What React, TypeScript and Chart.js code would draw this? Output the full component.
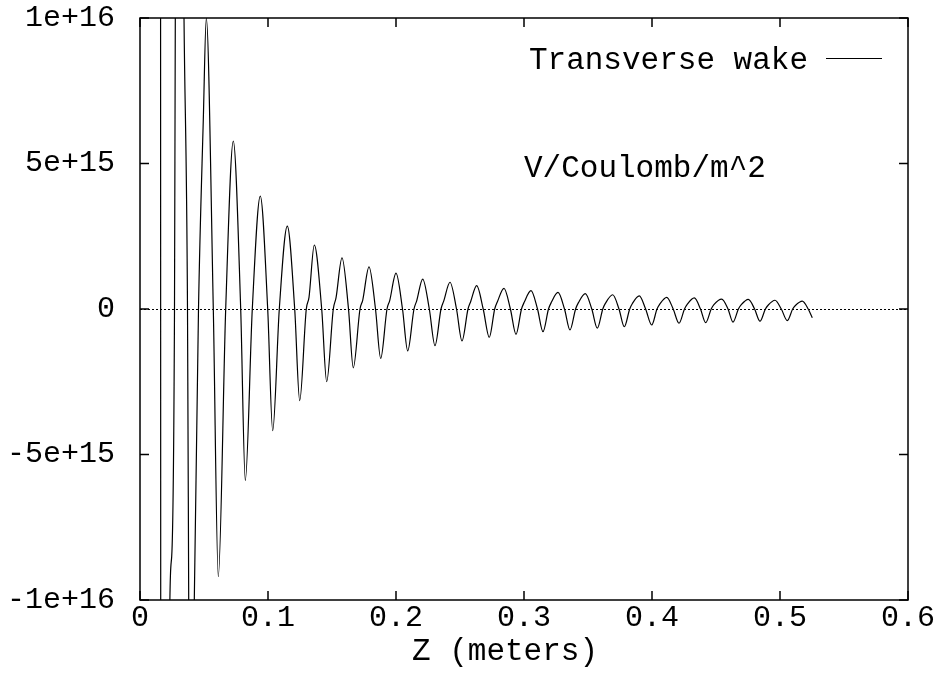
import React, { useEffect, useRef } from "react";
import { Chart, registerables } from "chart.js";

Chart.register(...registerables);

const FONT = '"Liberation Mono", "Courier New", monospace';

// Axis ticks
const xTickValues = [0, 0.1, 0.2, 0.3, 0.4, 0.5, 0.6];
const xTickLabels = ["0", "0.1", "0.2", "0.3", "0.4", "0.5", "0.6"];
const yTickValues = [-1e16, -5e15, 0, 5e15, 1e16];
const yTickLabels = ["-1e+16", "-5e+15", "0", "5e+15", "1e+16"];

const seriesLabel = "Transverse wake";
const unitsLabel = "V/Coulomb/m^2";
const xTitle = "Z (meters)";
const UNIT = 1e15; // wake values below are in units of 1e15 V/Coulomb/m^2

// Steep start of the wake (z in meters, wake in 1e15)
const headZ = [0.01586, 0.01648, 0.01953, 0.02328, 0.02477, 0.02695, 0.02758, 0.03086, 0.03438, 0.03711, 0.03805, 0.03945, 0.04242, 0.0457, 0.04945, 0.0518, 0.05727];
const headW = [60, -60, -90, -10.2, -8.5, 0, 10, 28, 10, 0, -10, -25, -10, 0, 6.5, 10.0, 0];

// Oscillation minima
const troughZ = [0.06117, 0.08227, 0.10367, 0.12477, 0.14586, 0.16664, 0.18805, 0.20914, 0.23047, 0.25156, 0.27289, 0.29375, 0.31484, 0.33594, 0.35727, 0.37836, 0.39977, 0.42109, 0.44195, 0.46328, 0.48438, 0.5057];
const troughW = [-9.2, -5.89, -4.18, -3.15, -2.5, -2.02, -1.7, -1.44, -1.26, -1.1, -0.97, -0.87, -0.78, -0.72, -0.66, -0.61, -0.55, -0.49, -0.47, -0.45, -0.42, -0.4];

// Upward zero crossings
const riseZeroZ = [0.06695, 0.08773, 0.10883, 0.12992, 0.15102, 0.17188, 0.19297, 0.21406, 0.23516, 0.25625, 0.27711, 0.29805, 0.31914, 0.34031, 0.36156, 0.38258, 0.40391, 0.42539, 0.44625, 0.4675, 0.48859, 0.50992];

// Shoulder on the rising edge
const shoulderZ = [0.13203, 0.15313, 0.17398, 0.19508, 0.21617, 0.23727, 0.25836, 0.27922, 0.30016, 0.32125, 0.34242, 0.36367, 0.38469, 0.40609, 0.4275, 0.44836, 0.46961, 0.4907, 0.51203];
const shoulderW = [0.4, 0.38, 0.3, 0.29, 0.28, 0.27, 0.26, 0.25, 0.23, 0.22, 0.21, 0.2, 0.19, 0.17, 0.16, 0.15, 0.14, 0.13, 0.12];

// Oscillation maxima
const peakZ = [0.07289, 0.09398, 0.11508, 0.13617, 0.15781, 0.17891, 0.2, 0.22086, 0.24219, 0.26305, 0.28438, 0.30547, 0.32656, 0.34789, 0.3693, 0.39008, 0.41148, 0.43305, 0.45445, 0.47523, 0.49609, 0.51742];
const peakW = [5.77, 3.88, 2.85, 2.2, 1.76, 1.45, 1.23, 1.03, 0.92, 0.8, 0.71, 0.63, 0.57, 0.53, 0.49, 0.45, 0.4, 0.38, 0.34, 0.33, 0.3, 0.27];

// Downward zero crossings
const fallZeroZ = [0.07867, 0.09977, 0.12086, 0.14195, 0.16289, 0.18398, 0.20508, 0.22602, 0.24727, 0.26813, 0.28938, 0.31055, 0.33164, 0.35297, 0.37422, 0.395, 0.41656, 0.43789, 0.45938, 0.48016, 0.50102, 0.52203];

// Last sample
const tailZ = [0.52523];
const tailW = [-0.3];

function buildPoints() {
  const pts: { x: number; y: number }[] = [];
  headZ.forEach((z, i) => pts.push({ x: z, y: headW[i] * UNIT }));
  troughZ.forEach((z, i) => pts.push({ x: z, y: troughW[i] * UNIT }));
  riseZeroZ.forEach((z) => pts.push({ x: z, y: 0 }));
  shoulderZ.forEach((z, i) => pts.push({ x: z, y: shoulderW[i] * UNIT }));
  peakZ.forEach((z, i) => pts.push({ x: z, y: peakW[i] * UNIT }));
  fallZeroZ.forEach((z) => pts.push({ x: z, y: 0 }));
  tailZ.forEach((z, i) => pts.push({ x: z, y: tailW[i] * UNIT }));
  pts.sort((a, b) => a.x - b.x);
  return pts;
}

const gnuplotFrame = {
  id: "gnuplotFrame",
  beforeDatasetsDraw(chart: any) {
    const { ctx, chartArea: a, scales } = chart;
    const y0 = Math.round(scales.y.getPixelForValue(0)) + 0.5;
    ctx.save();
    ctx.strokeStyle = "#000";
    ctx.lineWidth = 1;
    ctx.setLineDash([2, 2]);
    ctx.beginPath();
    ctx.moveTo(a.left, y0);
    ctx.lineTo(a.right, y0);
    ctx.stroke();
    ctx.restore();
  },
  afterDatasetsDraw(chart: any) {
    const { ctx, chartArea: a, scales } = chart;
    const tl = 9;
    ctx.save();
    ctx.strokeStyle = "#000";
    ctx.lineWidth = 1.5;
    ctx.strokeRect(a.left, a.top, a.right - a.left, a.bottom - a.top);
    ctx.beginPath();
    xTickValues.forEach((v) => {
      const px = scales.x.getPixelForValue(v);
      ctx.moveTo(px, a.bottom);
      ctx.lineTo(px, a.bottom - tl);
      ctx.moveTo(px, a.top);
      ctx.lineTo(px, a.top + tl);
    });
    yTickValues.forEach((v) => {
      const py = scales.y.getPixelForValue(v);
      ctx.moveTo(a.left, py);
      ctx.lineTo(a.left + tl, py);
      ctx.moveTo(a.right, py);
      ctx.lineTo(a.right - tl, py);
    });
    ctx.stroke();

    ctx.fillStyle = "#000";
    ctx.font = `31px ${FONT}`;
    ctx.textBaseline = "alphabetic";

    // legend entry
    ctx.textAlign = "right";
    ctx.fillText(seriesLabel, 808, 69);
    ctx.lineWidth = 1.2;
    ctx.beginPath();
    ctx.moveTo(826, 58.5);
    ctx.lineTo(882, 58.5);
    ctx.stroke();

    // units label
    ctx.textAlign = "left";
    ctx.fillText(unitsLabel, 524, 177);

    // x axis title
    ctx.textAlign = "center";
    ctx.fillText(xTitle, 505, 660);
    ctx.restore();
  },
};

export default function App() {
  const canvasRef = useRef<HTMLCanvasElement | null>(null);

  useEffect(() => {
    if (!canvasRef.current) return;
    const chart = new Chart(canvasRef.current, {
      type: "line",
      data: {
        datasets: [
          {
            label: seriesLabel,
            data: buildPoints(),
            borderColor: "#000",
            borderWidth: 1.2,
            pointRadius: 0,
            fill: false,
            cubicInterpolationMode: "monotone",
            clip: 0,
          } as any,
        ],
      },
      options: {
        animation: false,
        responsive: false,
        events: [],
        layout: { padding: { left: 0, right: 34, top: 18, bottom: 0 } },
        plugins: { legend: { display: false }, tooltip: { enabled: false } },
        scales: {
          x: {
            type: "linear",
            min: 0,
            max: 0.6,
            grid: { display: false, drawTicks: false },
            border: { display: false },
            afterBuildTicks: (s: any) => {
              s.ticks = xTickValues.map((v) => ({ value: v }));
            },
            afterFit: (s: any) => {
              s.height = 82;
              s.paddingLeft = 0;
              s.paddingRight = 0;
            },
            ticks: {
              autoSkip: false,
              maxRotation: 0,
              padding: 0,
              color: "#000",
              font: { family: FONT, size: 30 },
              callback: (_v: any, i: number) => xTickLabels[i],
            },
            title: { display: false, text: xTitle },
          },
          y: {
            type: "linear",
            min: -1e16,
            max: 1e16,
            grid: { display: false, drawTicks: false },
            border: { display: false },
            afterBuildTicks: (s: any) => {
              s.ticks = yTickValues.map((v) => ({ value: v }));
            },
            afterFit: (s: any) => {
              s.width = 140;
              s.paddingTop = 0;
              s.paddingBottom = 0;
            },
            ticks: {
              padding: 25,
              color: "#000",
              font: { family: FONT, size: 30 },
              callback: (_v: any, i: number) => yTickLabels[i],
            },
          },
        },
      } as any,
      plugins: [gnuplotFrame],
    });
    return () => chart.destroy();
  }, []);

  return (
    <div style={{ position: "absolute", left: 0, top: 0, width: 942, height: 682, background: "#fff" }}>
      <canvas ref={canvasRef} width={942} height={682} style={{ display: "block" }} />
    </div>
  );
}
